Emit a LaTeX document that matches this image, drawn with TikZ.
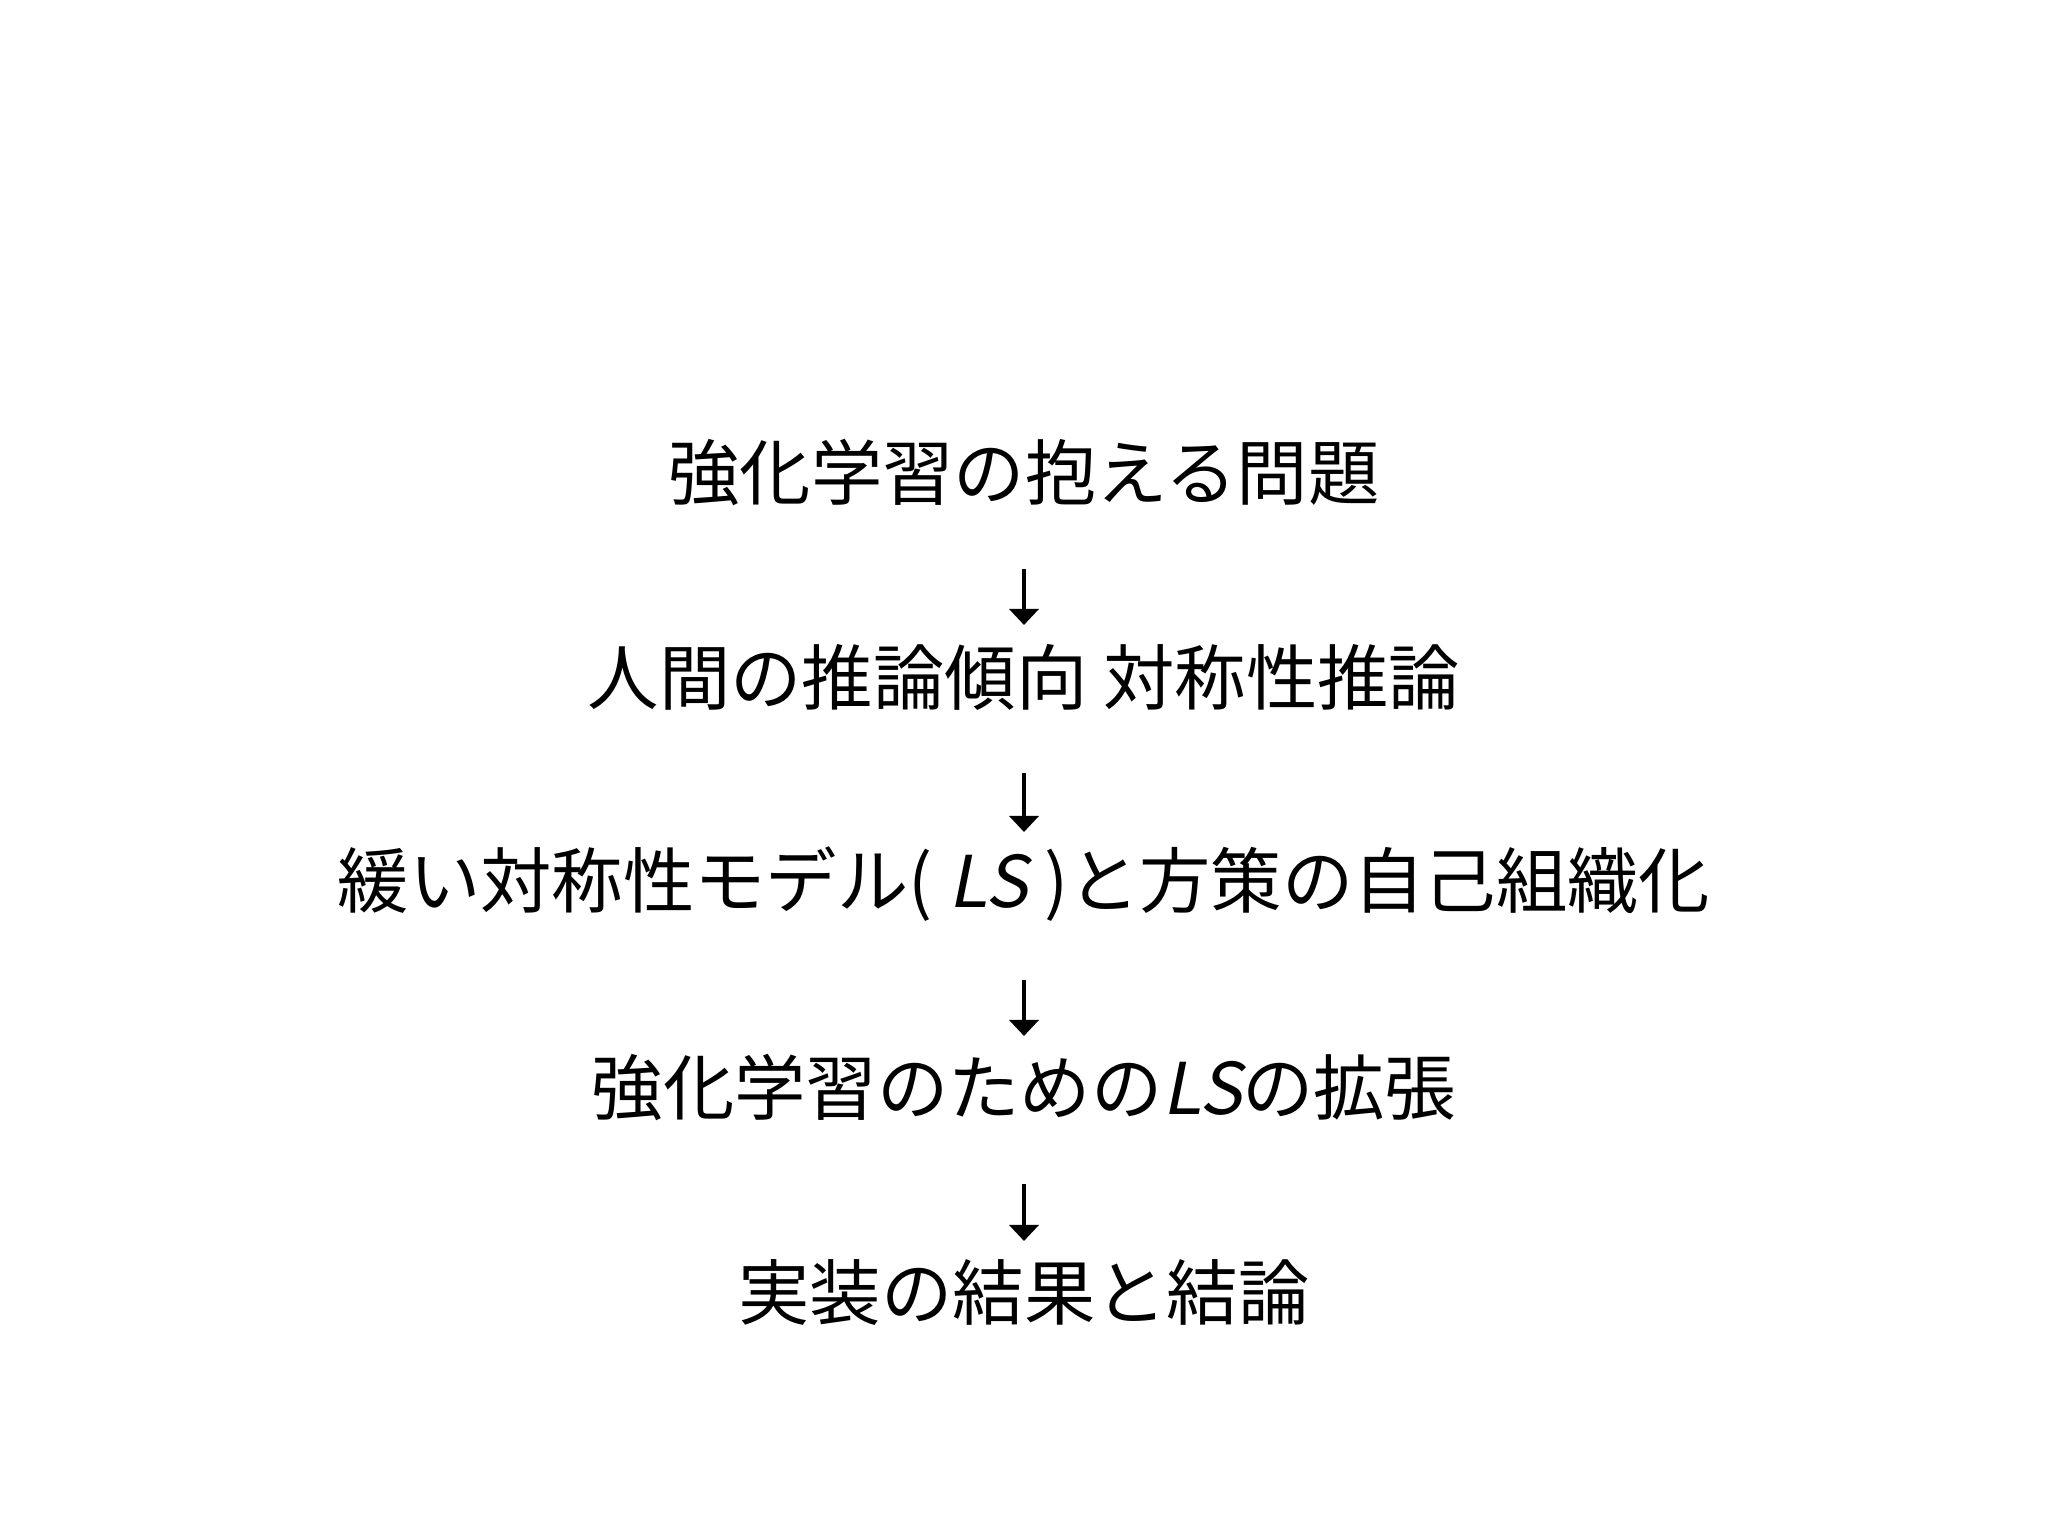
\documentclass[tikz,border=0pt]{standalone}
\usepackage{fontspec}
\setmainfont{Noto Sans CJK JP}[AutoFakeSlant=0.2]
\usetikzlibrary{positioning,arrows.meta}

\begin{document}
\begin{tikzpicture}
\tikzstyle{every node}+=[inner sep=0pt]
\tikzstyle{topic}=[font=\fontsize{20.3}{24}\selectfont]
\tikzstyle{flow}=[line width=1.4pt, -{Triangle[width=0.29cm,length=0.16cm]}, shorten <=0.96cm, shorten >=0.52cm]
\useasboundingbox (0,0) rectangle (20.48,15.36);
\node [topic] (p1) at (10.24,10.63) {強化学習の抱える問題};
\node [topic, below=2.04cm of p1.center, anchor=center] (p2) {人間の推論傾向 対称性推論};
\node [topic, below=2.07cm of p2.center, anchor=center] (p3) {緩い対称性モデル( \textit{LS} )と方策の自己組織化};
\node [topic, below=2.04cm of p3.center, anchor=center] (p4) {強化学習のための\textit{LS}の拡張};
\node [topic, below=2.05cm of p4.center, anchor=center] (p5) {実装の結果と結論};
\draw [flow] (p1.center) -- (p2.center);
\draw [flow] (p2.center) -- (p3.center);
\draw [flow] (p3.center) -- (p4.center);
\draw [flow] (p4.center) -- (p5.center);
\end{tikzpicture}
\end{document}
